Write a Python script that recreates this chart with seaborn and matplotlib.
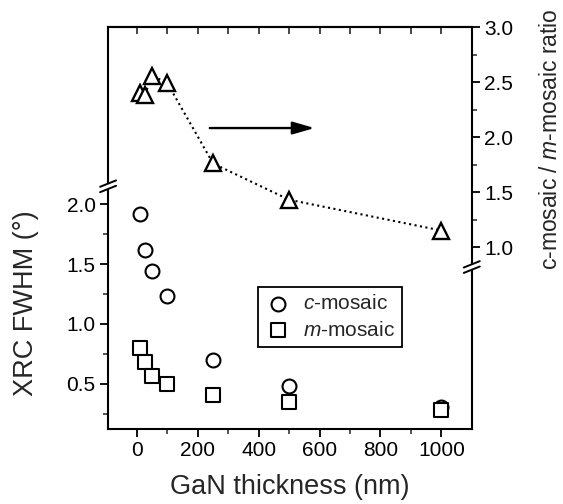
import numpy as np
import pandas as pd
import matplotlib
matplotlib.use("Agg")
import matplotlib.pyplot as plt
import seaborn as sns
from matplotlib.ticker import FixedLocator

# data
thickness = [10, 25, 50, 100, 250, 500, 1000]
c_mosaic = [1.92, 1.62, 1.44, 1.23, 0.70, 0.48, 0.31]
m_mosaic = [0.80, 0.68, 0.57, 0.50, 0.41, 0.35, 0.28]
ratio = [2.40, 2.38, 2.56, 2.49, 1.76, 1.43, 1.15]

x_ticks = [0, 200, 400, 600, 800, 1000]
left_ticks = [0.5, 1.0, 1.5, 2.0]
right_ticks = [1.0, 1.5, 2.0, 2.5, 3.0]

sns.set_theme(style="ticks")
plt.rcParams["font.family"] = ["Liberation Sans", "DejaVu Sans"]
plt.rcParams["mathtext.fontset"] = "custom"
plt.rcParams["mathtext.rm"] = "Liberation Sans"
plt.rcParams["mathtext.it"] = "Liberation Sans:italic"

df = pd.DataFrame({"thickness": thickness, "c": c_mosaic, "m": m_mosaic, "ratio": ratio})

fig = plt.figure(figsize=(5.63, 5.04), dpi=100)
ax = fig.add_axes([0.192, 0.149, 0.646, 0.797])
ax2 = ax.twinx()

# FWHM points on the left axis
sns.scatterplot(data=df, x="thickness", y="c", marker="o", s=100, ax=ax,
                label=r"$\it{c}$-mosaic")
sns.scatterplot(data=df, x="thickness", y="m", marker="s", s=88, ax=ax,
                label=r"$\it{m}$-mosaic")
for coll in ax.collections:
    coll.set_facecolor("white")
    coll.set_edgecolor("black")
    coll.set_linewidth(1.5)

# ratio on the right axis
sns.lineplot(data=df, x="thickness", y="ratio", ax=ax2, color="black",
             linestyle=":", linewidth=1.5, marker="^", markersize=12,
             markerfacecolor="white", markeredgecolor="black", markeredgewidth=1.7)

ax.set_xlim(-95, 1100)
ax.set_ylim(0.125, 3.475)
ax2.set_ylim(-0.655, 3.0)

ax.xaxis.set_major_locator(FixedLocator(x_ticks))
ax.xaxis.set_minor_locator(FixedLocator([100, 300, 500, 700, 900]))
ax.yaxis.set_major_locator(FixedLocator(left_ticks))
ax.yaxis.set_minor_locator(FixedLocator([0.25, 0.75, 1.25, 1.75]))
ax2.yaxis.set_major_locator(FixedLocator(right_ticks))
ax2.yaxis.set_minor_locator(FixedLocator([1.25, 1.75, 2.25, 2.75]))
ax.set_yticklabels(["0.5", "1.0", "1.5", "2.0"])
ax2.set_yticklabels(["1.0", "1.5", "2.0", "2.5", "3.0"])

fs = 15
ax.tick_params(axis="both", which="major", direction="out", length=6, width=1.3,
               labelsize=fs, colors="black", pad=3)
ax.tick_params(axis="both", which="minor", direction="out", length=3.5, width=1.1)
ax2.tick_params(axis="y", which="major", direction="out", length=6, width=1.3,
                labelsize=fs, colors="black", pad=3)
ax2.tick_params(axis="y", which="minor", direction="out", length=3.5, width=1.1)

top = ax.secondary_xaxis("top")
top.xaxis.set_major_locator(FixedLocator(x_ticks))
top.xaxis.set_minor_locator(FixedLocator([100, 300, 500, 700, 900]))
top.tick_params(which="both", direction="in", length=5, width=1.2, labeltop=False)
top.spines["top"].set_linewidth(1.5)

for s in ["left", "bottom", "top"]:
    ax.spines[s].set_linewidth(1.5)
    ax.spines[s].set_color("black")
ax.spines["right"].set_visible(False)
for s in ["left", "bottom", "top"]:
    ax2.spines[s].set_visible(False)
ax2.spines["right"].set_linewidth(1.5)
ax2.spines["right"].set_color("black")

ax.set_xlabel("GaN thickness (nm)", fontsize=19.5)
ax.xaxis.set_label_coords(0.5, -0.113)
ax.set_ylabel("XRC FWHM (°)", fontsize=19.5)
ax.yaxis.set_label_coords(-0.19, 0.313)
ax2.set_ylabel(r"c-mosaic / $\it{m}$-mosaic ratio", fontsize=16.5)
ax2.yaxis.set_label_coords(1.185, 0.72)

# arrow pointing at right axis
ax2.annotate("", xy=(0.575, 0.749), xytext=(0.272, 0.749), xycoords="axes fraction",
             textcoords="axes fraction",
             arrowprops=dict(arrowstyle="-|>,head_length=1.1,head_width=0.32",
                             color="black", lw=1.7))

# axis breaks
px, py = 1 / 364, 1 / 402
def draw_break(xc, yc):
    ax2.fill([xc - 3 * px, xc + 3 * px, xc + 3 * px, xc - 3 * px],
             [yc - 3.5 * py, yc - 1 * py, yc + 3.5 * py, yc + 1 * py],
             color="white", transform=ax2.transAxes, clip_on=False, zorder=5)
    for off in (-2.7, 2.7):
        ax2.plot([xc - 8 * px, xc + 8 * px],
                 [yc + off * py - 3.2 * py, yc + off * py + 3.2 * py],
                 color="black", lw=1.4, transform=ax2.transAxes, clip_on=False, zorder=6)

draw_break(0.0, 0.604)
draw_break(1.0, 0.403)

leg = ax.legend(loc="lower left", bbox_to_anchor=(0.412, 0.204), fontsize=fs,
                frameon=True, fancybox=False, edgecolor="black", framealpha=1,
                handletextpad=0.6, borderpad=0.35, labelspacing=0.35,
                handlelength=1.2, borderaxespad=0)
leg.get_frame().set_linewidth(1.3)

fig.savefig("out.png", dpi=100)
